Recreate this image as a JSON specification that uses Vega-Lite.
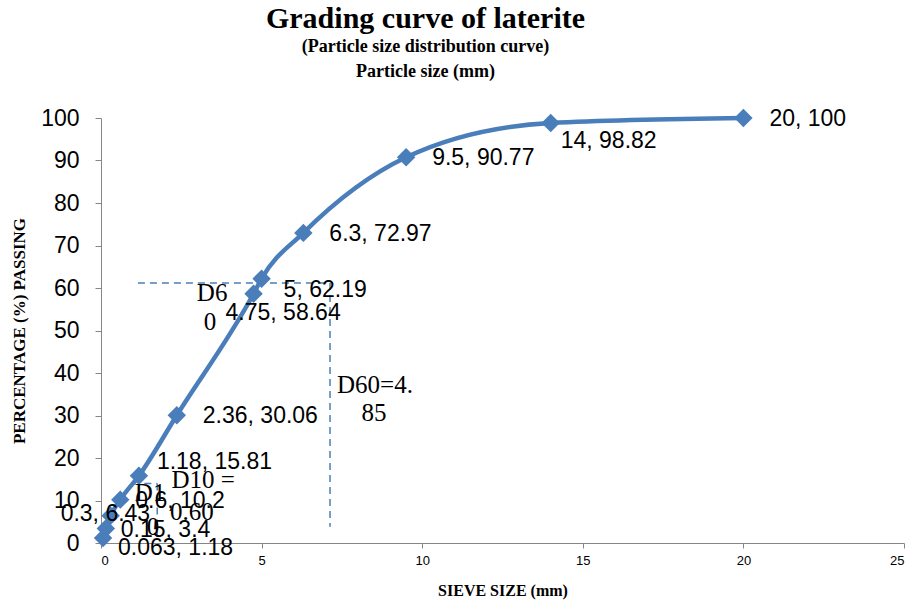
{
  "$schema": "https://vega.github.io/schema/vega-lite/v6.json",
  "width": 803,
  "height": 425,
  "autosize": "none",
  "padding": {"left": 101, "top": 118, "right": 8, "bottom": 62},
  "background": "white",
  "title": {
    "text": "Grading curve of laterite",
    "subtitle": ["(Particle size distribution curve)", "Particle size (mm)"],
    "font": "Liberation Serif",
    "fontSize": 30,
    "fontWeight": "bold",
    "color": "black",
    "subtitleFont": "Liberation Serif",
    "subtitleFontSize": 18,
    "subtitleFontWeight": "bold",
    "subtitleColor": "black",
    "subtitleLineHeight": 25,
    "subtitlePadding": 4,
    "anchor": "middle",
    "dx": -77,
    "offset": 26
  },
  "datasets": {
    "pts": [
      {"size": 0.063, "pass": 1.18, "label": "0.063, 1.18"},
      {"size": 0.15, "pass": 3.4, "label": "0.15, 3.4"},
      {"size": 0.3, "pass": 6.43, "label": "0.3, 6.43"},
      {"size": 0.6, "pass": 10.2, "label": "0.6, 10.2"},
      {"size": 1.18, "pass": 15.81, "label": "1.18, 15.81"},
      {"size": 2.36, "pass": 30.06, "label": "2.36, 30.06"},
      {"size": 4.75, "pass": 58.64, "label": "4.75, 58.64"},
      {"size": 5, "pass": 62.19, "label": "5, 62.19"},
      {"size": 6.3, "pass": 72.97, "label": "6.3, 72.97"},
      {"size": 9.5, "pass": 90.77, "label": "9.5, 90.77"},
      {"size": 14, "pass": 98.82, "label": "14, 98.82"},
      {"size": 20, "pass": 100, "label": "20, 100"}
    ],
    "guides": [
      {"g": "d60h", "x": 1.15, "y": 61.2},
      {"g": "d60h", "x": 7.13, "y": 61.2},
      {"g": "d60v", "x": 7.13, "y": 61.2},
      {"g": "d60v", "x": 7.13, "y": 3.8},
      {"g": "d10h", "x": 1.35, "y": 14},
      {"g": "d10h", "x": 1.75, "y": 14},
      {"g": "d10v", "x": 1.75, "y": 14},
      {"g": "d10v", "x": 1.75, "y": 1.4}
    ],
    "notes": [
      {"x": 3.46, "y": 58.8, "t": "D6"},
      {"x": 3.39, "y": 52.0, "t": "0"},
      {"x": 8.53, "y": 37.2, "t": "D60=4."},
      {"x": 8.5, "y": 30.6, "t": "85"},
      {"x": 3.18, "y": 14.8, "t": "D10 ="},
      {"x": 2.83, "y": 7.3, "t": "0.60"},
      {"x": 1.53, "y": 11.8, "t": "D1"},
      {"x": 1.62, "y": 3.8, "t": "0"}
    ]
  },
  "config": {
    "view": {"stroke": null},
    "scale": {"continuousPadding": 0},
    "axis": {"grid": false, "domainColor": "#868686", "tickColor": "#868686", "labelColor": "black", "titleColor": "black", "titleFont": "Liberation Serif", "titleFontWeight": "bold"}
  },
  "encoding": {
    "x": {"field": "x", "type": "quantitative", "scale": {"domain": [0, 25], "nice": false, "padding": 0, "zero": true},
      "axis": {"values": [0, 5, 10, 15, 20, 25], "title": "SIEVE SIZE (mm)", "titleFontSize": 16, "titlePadding": 15, "labelFont": "Liberation Sans", "labelFontSize": 13, "labelPadding": 6, "tickSize": 5}},
    "y": {"field": "y", "type": "quantitative", "scale": {"domain": [0, 100], "nice": false, "padding": 0},
      "axis": {"values": [0, 10, 20, 30, 40, 50, 60, 70, 80, 90, 100], "title": "PERCENTAGE (%) PASSING", "titleFontSize": 17, "titlePadding": 12, "labelFont": "Liberation Sans", "labelFontSize": 23, "labelPadding": 16, "tickSize": 6}}
  },
  "layer": [
    {
      "data": {"name": "guides"},
      "mark": {"type": "line", "color": "#4A7EBB", "strokeWidth": 1.5, "strokeDash": [7, 5]},
      "encoding": {"detail": {"field": "g"}}
    },
    {
      "data": {"name": "pts"},
      "mark": {"type": "line", "color": "#4A7EBB", "strokeWidth": 4.5, "interpolate": "monotone"},
      "encoding": {
        "x": {"field": "size", "type": "quantitative"},
        "y": {"field": "pass", "type": "quantitative"}
      }
    },
    {
      "data": {"name": "pts"},
      "mark": {"type": "point", "shape": "diamond", "filled": true, "color": "#4A7EBB", "opacity": 1, "size": 340},
      "encoding": {
        "x": {"field": "size", "type": "quantitative"},
        "y": {"field": "pass", "type": "quantitative"}
      }
    },
    {
      "data": {"name": "notes"},
      "mark": {"type": "text", "font": "Liberation Serif", "fontSize": 25, "color": "black", "align": "center", "baseline": "middle"},
      "encoding": {"text": {"field": "t"}}
    },
    {
      "data": {"name": "pts"},
      "transform": [{"filter": "indexof([20, 9.5, 6.3, 2.36], datum.size) >= 0"}],
      "mark": {"type": "text", "font": "Liberation Sans", "fontSize": 23, "align": "left", "baseline": "middle", "dx": 26, "dy": 1, "color": "black"},
      "encoding": {"x": {"field": "size", "type": "quantitative"}, "y": {"field": "pass", "type": "quantitative"}, "text": {"field": "label"}}
    },
    {
      "data": {"name": "pts"},
      "transform": [{"filter": "datum.size == 14"}],
      "mark": {"type": "text", "font": "Liberation Sans", "fontSize": 23, "align": "left", "baseline": "middle", "dx": 10, "dy": 18, "color": "black"},
      "encoding": {"x": {"field": "size", "type": "quantitative"}, "y": {"field": "pass", "type": "quantitative"}, "text": {"field": "label"}}
    },
    {
      "data": {"name": "pts"},
      "transform": [{"filter": "datum.size == 5"}],
      "mark": {"type": "text", "font": "Liberation Sans", "fontSize": 23, "align": "left", "baseline": "middle", "dx": 22, "dy": 11, "color": "black"},
      "encoding": {"x": {"field": "size", "type": "quantitative"}, "y": {"field": "pass", "type": "quantitative"}, "text": {"field": "label"}}
    },
    {
      "data": {"name": "pts"},
      "transform": [{"filter": "datum.size == 4.75"}],
      "mark": {"type": "text", "font": "Liberation Sans", "fontSize": 23, "align": "left", "baseline": "middle", "dx": -28, "dy": 19, "color": "black"},
      "encoding": {"x": {"field": "size", "type": "quantitative"}, "y": {"field": "pass", "type": "quantitative"}, "text": {"field": "label"}}
    },
    {
      "data": {"name": "pts"},
      "transform": [{"filter": "datum.size == 1.18"}],
      "mark": {"type": "text", "font": "Liberation Sans", "fontSize": 23, "align": "left", "baseline": "middle", "dx": 18, "dy": -14, "color": "black"},
      "encoding": {"x": {"field": "size", "type": "quantitative"}, "y": {"field": "pass", "type": "quantitative"}, "text": {"field": "label"}}
    },
    {
      "data": {"name": "pts"},
      "transform": [{"filter": "datum.size == 0.6 || datum.size == 0.15"}],
      "mark": {"type": "text", "font": "Liberation Sans", "fontSize": 23, "align": "left", "baseline": "middle", "dx": 15, "dy": 1, "color": "black"},
      "encoding": {"x": {"field": "size", "type": "quantitative"}, "y": {"field": "pass", "type": "quantitative"}, "text": {"field": "label"}}
    },
    {
      "data": {"name": "pts"},
      "transform": [{"filter": "datum.size == 0.3"}],
      "mark": {"type": "text", "font": "Liberation Sans", "fontSize": 23, "align": "left", "baseline": "middle", "dx": -50, "dy": -2, "color": "black"},
      "encoding": {"x": {"field": "size", "type": "quantitative"}, "y": {"field": "pass", "type": "quantitative"}, "text": {"field": "label"}}
    },
    {
      "data": {"name": "pts"},
      "transform": [{"filter": "datum.size == 0.063"}],
      "mark": {"type": "text", "font": "Liberation Sans", "fontSize": 23, "align": "left", "baseline": "middle", "dx": 15, "dy": 10, "color": "black"},
      "encoding": {"x": {"field": "size", "type": "quantitative"}, "y": {"field": "pass", "type": "quantitative"}, "text": {"field": "label"}}
    }
  ]
}
